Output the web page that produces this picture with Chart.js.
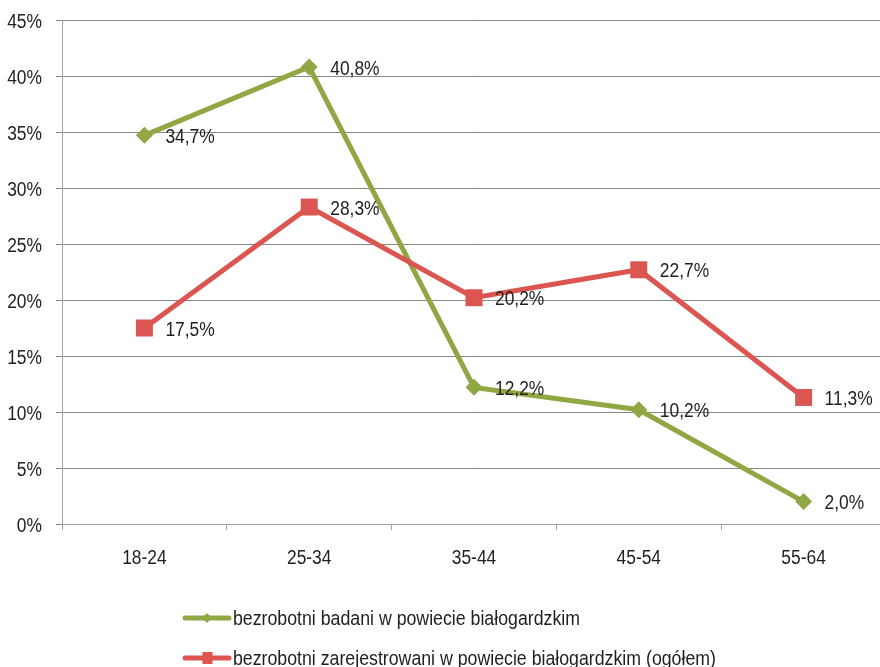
<!DOCTYPE html>
<html>
<head>
<meta charset="utf-8">
<script src="https://cdn.jsdelivr.net/npm/chart.js@4"></script>
<style>
  html, body { margin: 0; padding: 0; background: #fff; overflow: hidden; }
  canvas { display: block; }
</style>
</head>
<body>
<canvas id="c" width="898" height="667" style="width:898px;height:667px"></canvas>
<script>
const categories = ['18-24', '25-34', '35-44', '45-54', '55-64'];
const seriesNames = ['bezrobotni badani w powiecie białogardzkim', 'bezrobotni zarejestrowani w powiecie białogardzkim (ogółem)'];
const badani = [34.7, 40.8, 12.2, 10.2, 2.0];
const zarejestrowani = [17.5, 28.3, 20.2, 22.7, 11.3];
const yTicks = [0, 5, 10, 15, 20, 25, 30, 35, 40, 45];

const GREEN = '#8fa844';
const RED = '#db5551';
const FONT = "'Liberation Sans', Arial, sans-serif";
const TEXT = '#1f1f1f';
const SX = 0.87; // horizontal condensing of the narrow typeface

const fmt = v => v.toFixed(1).replace('.', ',') + '%';

function narrowText(ctx, text, x, y, size, align) {
  ctx.save();
  ctx.font = size + 'px ' + FONT;
  ctx.fillStyle = TEXT;
  ctx.textAlign = align;
  ctx.textBaseline = 'middle';
  ctx.translate(x, y);
  ctx.scale(SX, 1);
  ctx.fillText(text, 0, 0);
  ctx.restore();
}

const textPlugin = {
  id: 'narrowTexts',
  afterDraw(chart) {
    const ctx = chart.ctx;
    const xs = chart.scales.x, ys = chart.scales.y;
    ys.ticks.forEach(t => {
      narrowText(ctx, t.value + '%', chart.chartArea.left - 20, ys.getPixelForValue(t.value) + 2, 20, 'right');
    });
    categories.forEach((c, i) => {
      narrowText(ctx, c, xs.getPixelForValue(i), 558, 20, 'center');
    });
    chart.data.datasets.forEach((ds, i) => {
      const meta = chart.getDatasetMeta(i);
      meta.data.forEach((pt, j) => {
        narrowText(ctx, fmt(ds.data[j]), pt.x + 21, pt.y + 2, 20, 'left');
      });
    });
    chart.data.datasets.forEach((ds, i) => {
      const y = 618 + i * 40;
      ctx.save();
      ctx.strokeStyle = ds.borderColor;
      ctx.lineWidth = 5;
      ctx.lineCap = 'round';
      ctx.beginPath();
      ctx.moveTo(185, y);
      ctx.lineTo(229, y);
      ctx.stroke();
      ctx.fillStyle = ds.borderColor;
      if (ds.pointStyle === 'rectRot') {
        ctx.beginPath();
        ctx.moveTo(207, y - 5);
        ctx.lineTo(212, y);
        ctx.lineTo(207, y + 5);
        ctx.lineTo(202, y);
        ctx.closePath();
        ctx.fill();
      } else {
        ctx.fillRect(202.5, y - 6, 10, 12);
      }
      ctx.restore();
      ctx.save();
      ctx.font = '20.5px ' + FONT;
      ctx.fillStyle = TEXT;
      ctx.textAlign = 'left';
      ctx.textBaseline = 'middle';
      ctx.translate(233, y + 1);
      ctx.scale(0.865, 1);
      ctx.fillText(seriesNames[i], 0, 0);
      ctx.restore();
    });
  }
};

new Chart(document.getElementById('c'), {
  type: 'line',
  data: {
    labels: categories,
    datasets: [
      {
        label: seriesNames[0],
        data: badani,
        borderColor: GREEN,
        backgroundColor: GREEN,
        borderWidth: 5,
        pointStyle: 'rectRot',
        pointRadius: 8.5,
        pointBorderWidth: 0,
        pointBackgroundColor: GREEN,
        tension: 0,
        order: 1
      },
      {
        label: seriesNames[1],
        data: zarejestrowani,
        borderColor: RED,
        backgroundColor: RED,
        borderWidth: 5,
        pointStyle: 'rect',
        pointRadius: 12,
        pointBorderWidth: 0,
        pointBackgroundColor: RED,
        tension: 0,
        order: 0
      }
    ]
  },
  options: {
    responsive: false,
    animation: false,
    events: [],
    devicePixelRatio: 1,
    layout: { padding: { top: 20, right: 4, bottom: 93, left: 0 } },
    plugins: {
      legend: { display: false },
      tooltip: { enabled: false }
    },
    scales: {
      x: {
        type: 'category',
        offset: true,
        afterFit: s => { s.height = 50; },
        grid: {
          offset: true,
          drawOnChartArea: false,
          drawTicks: true,
          tickLength: 6,
          color: '#a0a0a0'
        },
        border: { display: true, color: '#a0a0a0', width: 1 },
        ticks: { display: false }
      },
      y: {
        min: 0,
        max: 45,
        afterFit: s => { s.width = 62; },
        afterBuildTicks: s => { s.ticks = yTicks.map(v => ({ value: v })); },
        grid: {
          color: '#868686',
          lineWidth: 1,
          drawTicks: true,
          tickLength: 6
        },
        border: { display: true, color: '#a0a0a0', width: 1 },
        ticks: { display: false }
      }
    }
  },
  plugins: [textPlugin]
});
</script>
</body>
</html>
